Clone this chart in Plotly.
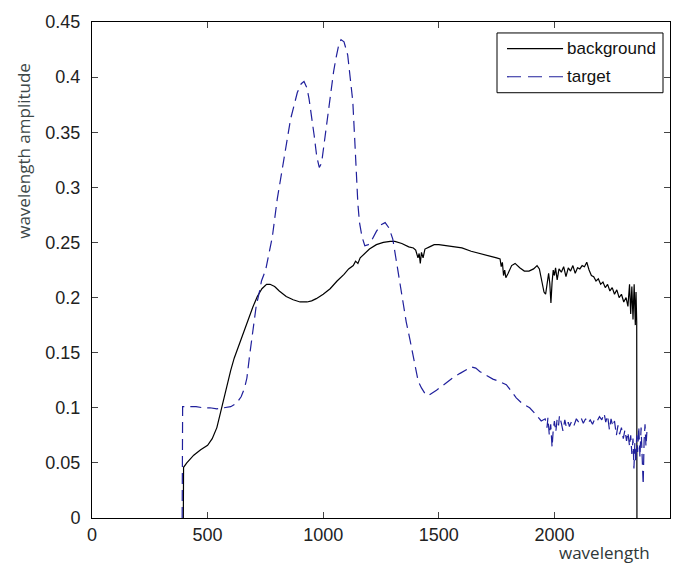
import plotly.graph_objects as go

bg_wl = [395, 396, 410, 440, 470, 500, 520, 540, 555, 570, 585, 600, 615, 635, 655, 675, 695, 715, 735, 755,
         770, 790, 810, 840, 870, 900, 930, 950, 970, 1000, 1030, 1060, 1090, 1110, 1130, 1140, 1150, 1160, 1180,
         1200, 1230, 1260, 1290, 1310, 1340, 1370, 1390, 1400, 1410, 1415, 1420, 1425, 1432, 1440, 1460, 1480,
         1500, 1530, 1560, 1600, 1640, 1680, 1720, 1750, 1765, 1770, 1775, 1780, 1785, 1790, 1800, 1815, 1830,
         1850, 1870, 1890, 1910, 1925, 1935, 1945, 1955, 1962, 1968, 1975, 1980, 1985, 1990, 1995, 2000, 2005,
         2012, 2020, 2030, 2040, 2050, 2060, 2070, 2080, 2090, 2100, 2110, 2120, 2130, 2140, 2150, 2160, 2170,
         2180, 2190, 2200, 2210, 2220, 2230, 2240, 2250, 2260, 2270, 2280, 2290, 2300, 2310, 2318, 2325, 2330,
         2335, 2340, 2345, 2350, 2353, 2356, 2357]
bg_val = [0, 0.046, 0.05, 0.057, 0.062, 0.066, 0.072, 0.082, 0.095, 0.108, 0.122, 0.134, 0.145, 0.157, 0.168,
          0.18, 0.191, 0.201, 0.208, 0.212, 0.212, 0.21, 0.206, 0.201, 0.198, 0.196, 0.196, 0.197, 0.199, 0.203,
          0.208, 0.215, 0.221, 0.226, 0.229, 0.233, 0.231, 0.236, 0.24, 0.244, 0.248, 0.25, 0.251, 0.251, 0.249,
          0.246, 0.245, 0.243, 0.236, 0.24, 0.231, 0.241, 0.236, 0.244, 0.246, 0.248, 0.248, 0.247, 0.246, 0.245,
          0.242, 0.24, 0.238, 0.236, 0.235, 0.228, 0.232, 0.22, 0.225, 0.218, 0.222, 0.229, 0.231, 0.227, 0.224,
          0.224, 0.226, 0.229, 0.226, 0.215, 0.205, 0.203, 0.212, 0.222, 0.213, 0.195, 0.214, 0.225, 0.22, 0.227,
          0.216, 0.226, 0.223, 0.228, 0.219, 0.227, 0.224, 0.229, 0.222, 0.227, 0.226, 0.229, 0.228, 0.232, 0.225,
          0.22, 0.219, 0.215, 0.217, 0.212, 0.214, 0.209, 0.212, 0.206, 0.209, 0.203, 0.207, 0.2, 0.203, 0.196,
          0.2, 0.192, 0.212, 0.185, 0.21, 0.18, 0.212, 0.175, 0.205, 0.178, 0]

tg_wl = [390, 392, 420, 450, 480, 510, 540, 570, 600, 625, 645, 660, 670, 682, 697, 710, 725, 733, 751, 780,
         801, 830, 859, 888, 905, 917, 930, 939, 950, 961, 972, 983, 993, 1004, 1020, 1033, 1045, 1055, 1066,
         1077, 1090, 1106, 1118, 1128, 1136, 1142, 1150, 1157, 1168, 1180, 1195, 1210, 1230, 1250, 1268, 1285,
         1301, 1315, 1330, 1345, 1359, 1375, 1388, 1400, 1411, 1425, 1440, 1454, 1470, 1490, 1510, 1533, 1560,
         1590, 1615, 1641, 1660, 1677, 1700, 1734, 1760, 1792, 1810, 1835, 1860, 1893, 1915, 1943, 1960, 1968,
         1972, 1978, 1984, 1990, 1995, 2000, 2006, 2012, 2018, 2022, 2030, 2037, 2045, 2052, 2060, 2065, 2075,
         2085, 2095, 2105, 2115, 2125, 2135, 2145, 2155, 2165, 2175, 2185, 2195, 2205, 2215, 2222, 2230, 2238,
         2245, 2253, 2260, 2268, 2275, 2282, 2290, 2298, 2305, 2312, 2318, 2325, 2330, 2335, 2340, 2344, 2348,
         2352, 2356, 2360, 2365, 2370, 2375, 2380, 2384, 2388, 2392, 2396, 2400]
tg_val = [0, 0.101, 0.101, 0.101, 0.1, 0.1, 0.099, 0.1, 0.101, 0.104, 0.11, 0.118, 0.127, 0.148, 0.174, 0.192,
          0.206, 0.215, 0.225, 0.255, 0.289, 0.326, 0.362, 0.386, 0.394, 0.396, 0.39, 0.38, 0.365, 0.347, 0.328,
          0.318, 0.322, 0.34, 0.365, 0.384, 0.405, 0.417, 0.428, 0.434, 0.432, 0.42, 0.4, 0.378, 0.345, 0.317,
          0.285, 0.268, 0.255, 0.247, 0.248, 0.252, 0.26, 0.266, 0.268, 0.263, 0.253, 0.235, 0.214, 0.195, 0.178,
          0.162, 0.148, 0.135, 0.124, 0.118, 0.113, 0.111, 0.113, 0.116, 0.119, 0.123, 0.127, 0.131, 0.134, 0.137,
          0.136, 0.133, 0.13, 0.126, 0.124, 0.121, 0.116, 0.109, 0.104, 0.1, 0.095, 0.088, 0.09, 0.082, 0.091,
          0.075, 0.085, 0.064, 0.08, 0.088, 0.078, 0.09, 0.084, 0.093, 0.086, 0.079, 0.089, 0.082, 0.087, 0.083,
          0.088, 0.084, 0.09, 0.087, 0.091, 0.086, 0.09, 0.086, 0.089, 0.085, 0.09, 0.088, 0.092, 0.089, 0.095,
          0.087, 0.093, 0.08, 0.09, 0.083, 0.088, 0.075, 0.084, 0.076, 0.082, 0.072, 0.08, 0.07, 0.078, 0.065,
          0.075, 0.058, 0.072, 0.045, 0.068, 0.05, 0.075, 0.06, 0.083, 0.055, 0.082, 0.04, 0.03, 0.07, 0.085,
          0.065, 0.078]

series_names = ["background", "target"]
x_ticks = [0, 500, 1000, 1500, 2000, 2500]
y_ticks = [0, 0.05, 0.1, 0.15, 0.2, 0.25, 0.3, 0.35, 0.4, 0.45]
y_tick_text = ["0", "0.05", "0.1", "0.15", "0.2", "0.25", "0.3", "0.35", "0.4", "0.45"]

BG_COLOR = "black"
TG_COLOR = "#20209c"
TG_DASH = "11px,6px"

fig = go.Figure()
fig.add_trace(go.Scatter(x=bg_wl, y=bg_val, mode="lines", name=series_names[0],
                         line=dict(color=BG_COLOR, width=1.2)))
fig.add_trace(go.Scatter(x=tg_wl, y=tg_val, mode="lines", name=series_names[1],
                         line=dict(color=TG_COLOR, width=1.2, dash=TG_DASH)))

tick_font = dict(family="Liberation Sans, Arial", size=18, color="#222")
leg_font = dict(family="Liberation Sans, Arial", size=17, color="#111")

# hand-built MATLAB-style legend box (paper coordinates)
shapes = [
    dict(type="rect", xref="paper", yref="paper", x0=0.7007, x1=0.9879, y0=0.8574, y1=0.9779,
         line=dict(color="black", width=1), fillcolor="white", layer="above"),
    dict(type="line", xref="paper", yref="paper", x0=0.718, x1=0.815, y0=0.9464, y1=0.9464,
         line=dict(color=BG_COLOR, width=1.2), layer="above"),
    dict(type="line", xref="paper", yref="paper", x0=0.718, x1=0.815, y0=0.8896, y1=0.8896,
         line=dict(color=TG_COLOR, width=1.2, dash="14px,7px"), layer="above"),
]

fig.update_layout(
    width=686, height=568,
    margin=dict(l=92, r=16, t=20, b=50),
    paper_bgcolor="white", plot_bgcolor="white",
    showlegend=False,
    shapes=shapes,
    xaxis=dict(range=[0, 2500], tickvals=x_ticks, ticks="inside", ticklen=6,
               showline=True, linecolor="black", linewidth=1, mirror="allticks",
               showgrid=False, zeroline=False, tickfont=tick_font),
    yaxis=dict(range=[0, 0.45], tickvals=y_ticks, ticktext=y_tick_text, ticks="inside", ticklen=6,
               showline=True, linecolor="black", linewidth=1, mirror="allticks",
               showgrid=False, zeroline=False, tickfont=tick_font, ticklabelstandoff=7),
    annotations=[
        dict(text=series_names[0], xref="paper", yref="paper", x=0.819, y=0.9464,
             xanchor="left", yanchor="middle", showarrow=False, font=leg_font),
        dict(text=series_names[1], xref="paper", yref="paper", x=0.819, y=0.8896,
             xanchor="left", yanchor="middle", showarrow=False, font=leg_font),
        dict(text="wavelength amplitude", xref="paper", yref="paper", x=-0.118, y=0.74,
             textangle=-90, showarrow=False, xanchor="center", yanchor="middle",
             font=dict(family="Open Sans, Arial", size=17, color="#3d4848")),
        dict(text="wavelength", xref="paper", yref="paper", x=0.8875, y=-0.07,
             showarrow=False, xanchor="center", yanchor="middle",
             font=dict(family="Open Sans, Arial", size=17, color="#2e3838")),
    ],
)

fig.write_html("out.html")
